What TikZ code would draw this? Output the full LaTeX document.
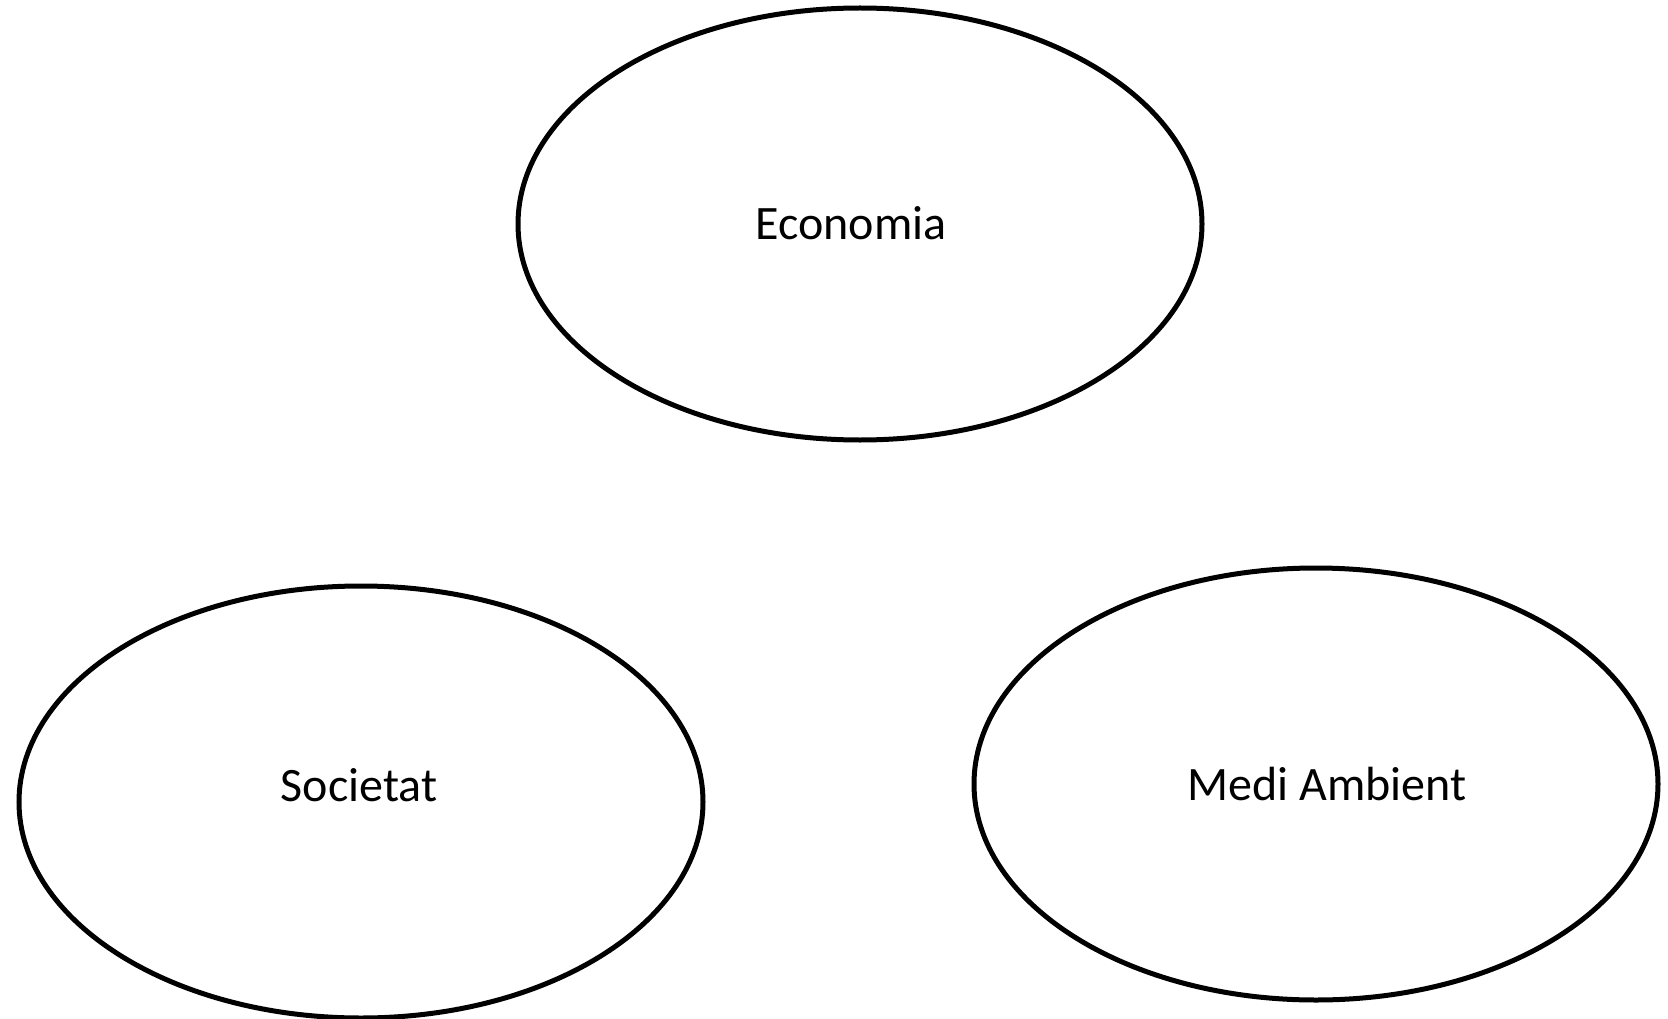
\documentclass[tikz,border=0pt]{standalone}
\usepackage{fontspec}
\setmainfont{Carlito}
\usetikzlibrary{shapes.geometric}
\tikzset{
  bubble/.style={draw=black, line width=5pt, ellipse, minimum width=684pt, minimum height=432pt, inner sep=0pt},
  lbl/.style={font=\fontsize{48}{56}\selectfont, anchor=base, inner sep=0pt}
}
\begin{document}
\begin{tikzpicture}[x=1pt,y=-1pt]
\useasboundingbox (0,0) rectangle (1668,1019);
\node[bubble] (eco) at (860,224) {};
\node[bubble] (soc) at (361,802) {};
\node[bubble] (med) at (1316,784) {};
\node[lbl] (ecot) at (851,240) {Economia};
\node[lbl] (soct) at (359,801) {Societat};
\node[lbl] (medt) at (1327,800) {Medi Ambient};
\end{tikzpicture}
\end{document}
